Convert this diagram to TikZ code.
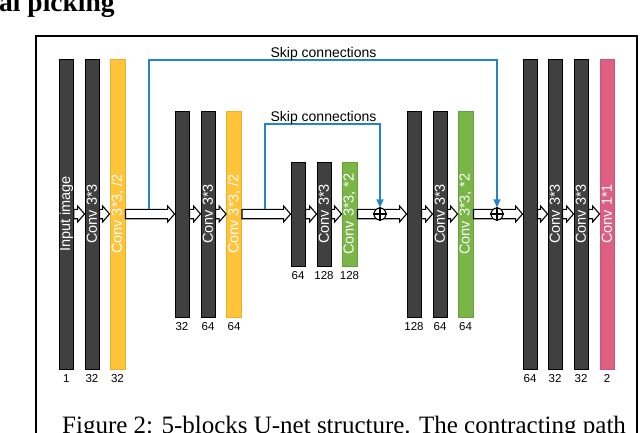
\documentclass[tikz,border=0pt]{standalone}
\usepackage{fontspec}
\setmainfont{Liberation Serif}
\newfontfamily\arialf{Liberation Sans}
\usetikzlibrary{calc,arrows.meta}
\definecolor{barDark}{RGB}{64,64,64}
\definecolor{barYellow}{RGB}{255,196,58}
\definecolor{barYellowLine}{RGB}{236,176,48}
\definecolor{barGreen}{RGB}{122,181,71}
\definecolor{barGreenLine}{RGB}{106,160,60}
\definecolor{barPink}{RGB}{221,96,132}
\definecolor{barPinkLine}{RGB}{205,84,118}
\definecolor{skipBlue}{RGB}{36,132,198}
\newcommand\blockarr[2]{%
  \draw[blk] ($(#1)+(0,-4.7)$) -- ($(#2)+(-7,-4.7)$) -- ($(#2)+(-7,-8)$) -- (#2)
    -- ($(#2)+(-7,8)$) -- ($(#2)+(-7,4.7)$) -- ($(#1)+(0,4.7)$) -- cycle;}
\begin{document}
\begin{tikzpicture}[x=1pt,y=-1pt,
  bar/.style={rectangle, inner sep=0, minimum width=14, line width=0.9},
  darkbar/.style={bar, fill=barDark, draw=black},
  yelbar/.style={bar, fill=barYellow, draw=barYellowLine, minimum width=15},
  grnbar/.style={bar, fill=barGreen, draw=barGreenLine, minimum width=15},
  pnkbar/.style={bar, fill=barPink, draw=barPinkLine, minimum width=14},
  bartext/.style={rotate=90, text=white, font=\arialf\fontsize{14.5}{14.5}\selectfont, inner sep=0},
  num/.style={font=\arialf\fontsize{11.5}{11.5}\selectfont, anchor=base, inner sep=0},
  blk/.style={draw=black, fill=white, line width=1.1, line join=miter},
  skipline/.style={draw=skipBlue, line width=1.1, -{Triangle[length=8,width=7]}},
  skiplabel/.style={font=\arialf\fontsize{14}{14}\selectfont, anchor=base, inner sep=0},
  plusnode/.style={circle, draw=black, fill=white, line width=1.1, minimum size=12, inner sep=0},
]
\clip (0,0) rectangle (640,432);
% heading fragment and frame
\node[anchor=base west, font=\bfseries\fontsize{27.5}{27.5}\selectfont, inner sep=0] (head) at (-1,11.5) {al picking};
\draw[line width=1.8] (36,460) -- (36,36) -- (637,36) -- (637,460);
% block 1
\node[darkbar, minimum height=310] (b11) at (66.3,214) {};
\node[darkbar, minimum height=310] (b12) at (92,214) {};
\node[yelbar,  minimum height=310] (b13) at (117.5,214) {};
% block 2
\node[darkbar, minimum height=206] (b21) at (182,214) {};
\node[darkbar, minimum height=206] (b22) at (208,214) {};
\node[yelbar,  minimum height=206] (b23) at (234,214) {};
% block 3
\node[darkbar, minimum height=104] (b31) at (298,214) {};
\node[darkbar, minimum height=104] (b32) at (324,214) {};
\node[grnbar,  minimum height=104] (b33) at (349.5,214) {};
% block 4
\node[darkbar, minimum height=206] (b41) at (414,214) {};
\node[darkbar, minimum height=206] (b42) at (440,214) {};
\node[grnbar,  minimum height=206] (b43) at (465.5,214) {};
% block 5
\node[darkbar, minimum height=310] (b51) at (530,214) {};
\node[darkbar, minimum height=310] (b52) at (555,214) {};
\node[darkbar, minimum height=310] (b53) at (581,214) {};
\node[pnkbar,  minimum height=310] (b54) at (607,214) {};
% bar texts
\node[bartext] (t11) at (b11.center) {Input image};
\node[bartext] (t12) at (b12.center) {Conv 3*3};
\node[bartext] (t13) at (b13.center) {Conv 3*3, /2};
\node[bartext] (t22) at (b22.center) {Conv 3*3};
\node[bartext] (t23) at (b23.center) {Conv 3*3, /2};
\node[bartext] (t32) at (b32.center) {Conv 3*3};
\node[bartext] (t33) at (b33.center) {Conv 3*3, *2};
\node[bartext] (t42) at (b42.center) {Conv 3*3};
\node[bartext] (t43) at (b43.center) {Conv 3*3, *2};
\node[bartext] (t52) at (b52.center) {Conv 3*3};
\node[bartext] (t53) at (b53.center) {Conv 3*3};
\node[bartext] (t54) at (b54.center) {Conv 1*1};
% channel numbers
\node[num] (n11) at ($(b11.south)+(0,12.8)$) {1};
\node[num] (n12) at ($(b12.south)+(0,12.8)$) {32};
\node[num] (n13) at ($(b13.south)+(0,12.8)$) {32};
\node[num] (n21) at ($(b21.south)+(0,12.8)$) {32};
\node[num] (n22) at ($(b22.south)+(0,12.8)$) {64};
\node[num] (n23) at ($(b23.south)+(0,12.8)$) {64};
\node[num] (n31) at ($(b31.south)+(0,12.8)$) {64};
\node[num] (n32) at ($(b32.south)+(0,12.8)$) {128};
\node[num] (n33) at ($(b33.south)+(0,12.8)$) {128};
\node[num] (n41) at ($(b41.south)+(0,12.8)$) {128};
\node[num] (n42) at ($(b42.south)+(0,12.8)$) {64};
\node[num] (n43) at ($(b43.south)+(0,12.8)$) {64};
\node[num] (n51) at ($(b51.south)+(0,12.8)$) {64};
\node[num] (n52) at ($(b52.south)+(0,12.8)$) {32};
\node[num] (n53) at ($(b53.south)+(0,12.8)$) {32};
\node[num] (n54) at ($(b54.south)+(0,12.8)$) {2};
% block arrows
\blockarr{b11.east}{b12.west}
\blockarr{b12.east}{b13.west}
\blockarr{b13.east}{b21.west}
\blockarr{b21.east}{b22.west}
\blockarr{b22.east}{b23.west}
\blockarr{b23.east}{b31.west}
\blockarr{b31.east}{b32.west}
\blockarr{b32.east}{b33.west}
\blockarr{b33.east}{b41.west}
\blockarr{b41.east}{b42.west}
\blockarr{b42.east}{b43.west}
\blockarr{b43.east}{b51.west}
\blockarr{b51.east}{b52.west}
\blockarr{b52.east}{b53.west}
\blockarr{b53.east}{b54.west}
% sum nodes
\node[plusnode] (p1) at (380,214) {};
\draw[line width=1.1] (p1.north) -- (p1.south) (p1.west) -- (p1.east);
\node[plusnode] (p2) at (497,214) {};
\draw[line width=1.1] (p2.north) -- (p2.south) (p2.west) -- (p2.east);
% skip connections
\coordinate (k1) at (149,208.5);
\coordinate (k2) at (265,208.5);
\draw[skipline] (k1) -- ++(0,-148.5) -| (p2.north);
\draw[skipline] (k2) -- ++(0,-84.5) -| (p1.north);
\node[skiplabel] (s1) at (323.5,57) {Skip connections};
\node[skiplabel] (s2) at (323.5,121) {Skip connections};
% caption fragment
\node[anchor=base west, font=\fontsize{25}{25}\selectfont, inner sep=0] (cap) at (62,433) {Figure 2: 5-blocks U-net structure. The contracting path};
\end{tikzpicture}
\end{document}
